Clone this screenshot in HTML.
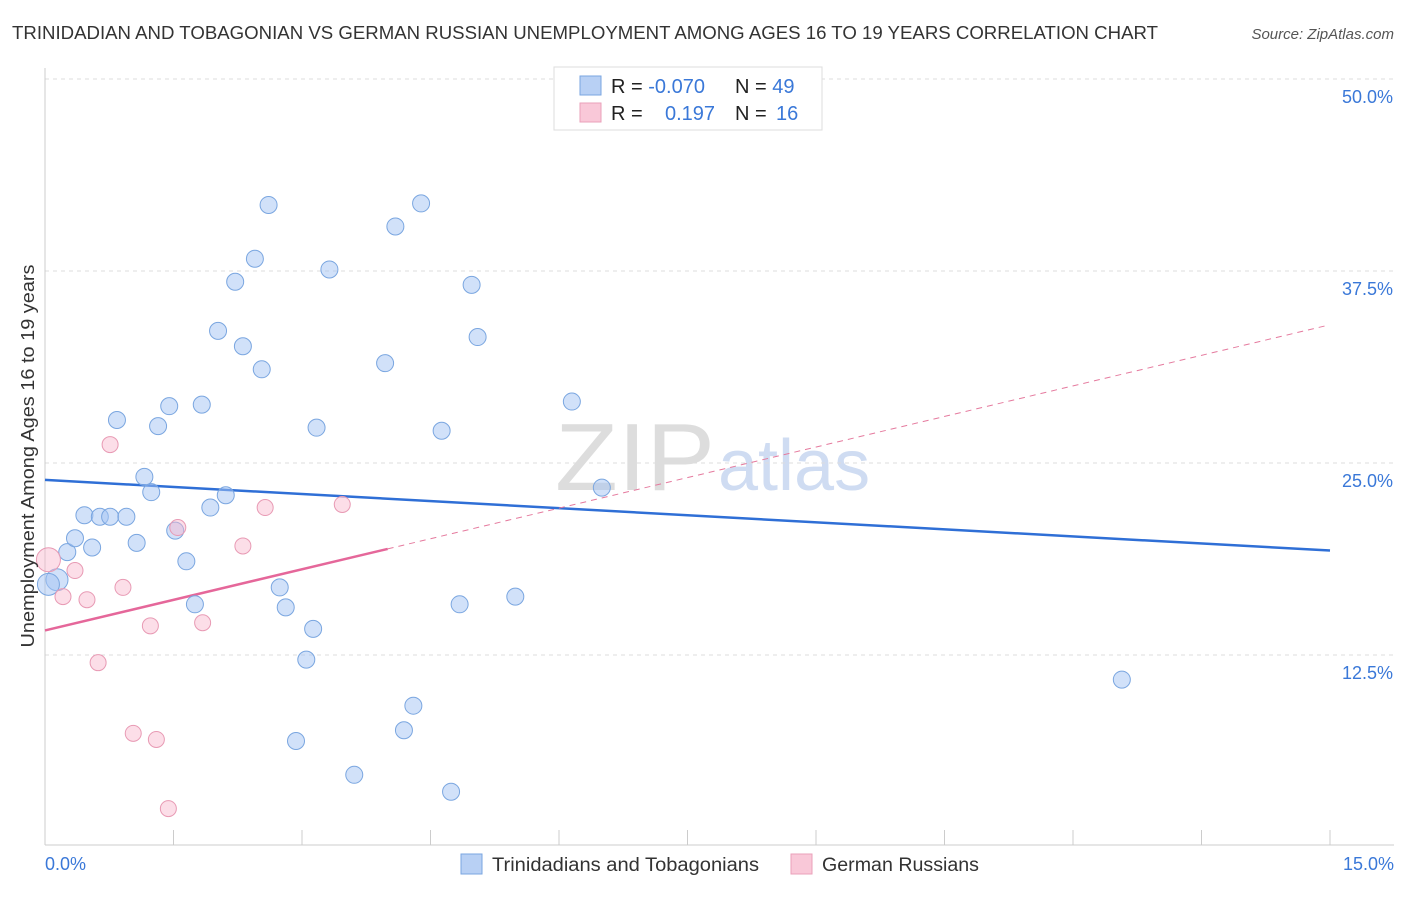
<!DOCTYPE html>
<html><head><meta charset="utf-8"><style>
body{margin:0;background:#fff;font-family:"Liberation Sans",sans-serif;}
svg text{font-family:"Liberation Sans",sans-serif;}
</style></head><body>
<svg id="chart" width="1406" height="892">
<text x="12" y="39" font-size="18" fill="#333" textLength="1146" lengthAdjust="spacingAndGlyphs">TRINIDADIAN AND TOBAGONIAN VS GERMAN RUSSIAN UNEMPLOYMENT AMONG AGES 16 TO 19 YEARS CORRELATION CHART</text>
<text x="1394" y="39" font-size="15" fill="#555" text-anchor="end" font-style="italic">Source: ZipAtlas.com</text>
<text x="555" y="490" font-size="96" fill="#ddd" font-family="Liberation Serif" textLength="160" lengthAdjust="spacingAndGlyphs">ZIP</text>
<text x="718" y="490" font-size="72" fill="#cfdcf2">atlas</text>
<g id="grid"></g><g id="axes"></g><g id="trend"></g><g id="pts"></g>
<text transform="translate(34,456) rotate(-90)" font-size="18" fill="#333" text-anchor="middle" textLength="383" lengthAdjust="spacingAndGlyphs">Unemployment Among Ages 16 to 19 years</text>
<text x="45" y="870" font-size="18" fill="#3a78d8">0.0%</text>
<text x="1394" y="870" font-size="18" fill="#3a78d8" text-anchor="end">15.0%</text>
<g>
<rect x="554" y="67" width="268" height="63" fill="#fff" stroke="#ddd"/>
<rect x="580" y="76" width="21" height="19" fill="#b8d0f4" stroke="#7aa6e0"/>
<rect x="580" y="103" width="21" height="19" fill="#f9c8d8" stroke="#eaa0ba"/>
<text x="611" y="93" font-size="20" fill="#222">R = <tspan fill="#3a78d8">-0.070</tspan></text>
<text x="735" y="93" font-size="20" fill="#222">N = <tspan fill="#3a78d8">49</tspan></text>
<text x="611" y="120" font-size="20" fill="#222">R = </text>
<text x="665" y="120" font-size="20" fill="#3a78d8">0.197</text>
<text x="735" y="120" font-size="20" fill="#222">N = </text>
<text x="776" y="120" font-size="20" fill="#3a78d8">16</text>
</g>
<g>
<rect x="461" y="854" width="21" height="20" fill="#b8d0f4" stroke="#7aa6e0"/>
<text x="492" y="871" font-size="19" fill="#333" textLength="267" lengthAdjust="spacingAndGlyphs">Trinidadians and Tobagonians</text>
<rect x="791" y="854" width="21" height="20" fill="#f9c8d8" stroke="#eaa0ba"/>
<text x="822" y="871" font-size="19" fill="#333" textLength="157" lengthAdjust="spacingAndGlyphs">German Russians</text>
</g>
</svg>
<script>
const yTicks=[12.5,25,37.5,50];
const yTickLabels=["12.5%","25.0%","37.5%","50.0%"];
const blueX=[0.14,0.26,0.35,0.46,0.55,0.64,0.76,0.84,0.95,1.07,1.16,1.24,1.32,1.45,1.52,1.65,1.75,1.83,1.93,2.02,2.11,2.22,2.31,2.45,2.53,2.61,2.74,2.81,2.93,3.05,3.13,3.17,3.32,3.61,3.97,4.09,4.19,4.30,4.39,4.63,4.74,4.84,4.98,5.05,5.49,6.15,6.50,12.57,0.04];
const blueY=[17.4,19.2,20.1,21.6,19.5,21.5,21.5,27.8,21.5,19.8,24.1,23.1,27.4,28.7,20.6,18.6,15.8,28.8,22.1,33.6,22.9,36.8,32.6,38.3,31.1,41.8,16.9,15.6,6.9,12.2,14.2,27.3,37.6,4.7,31.5,40.4,7.6,9.2,41.9,27.1,3.6,15.8,36.6,33.2,16.3,29.0,23.4,10.9,17.1];
const pinkX=[0.04,0.21,0.35,0.49,0.62,0.76,0.91,1.03,1.23,1.30,1.44,1.55,1.84,2.31,2.57,3.47];
const pinkY=[18.7,16.3,18.0,16.1,12.0,26.2,16.9,7.4,14.4,7.0,2.5,20.8,14.6,19.6,22.1,22.3];
const blueTrend=[23.9,19.3];
const pinkTrend=[14.1,34.0];
const pinkSolidEnd=4.0;
const X=v=>45+v/15*1285, Y=v=>847-v*192/12.5;
const NS="http://www.w3.org/2000/svg";
function mk(tag,attrs,parent){const e=document.createElementNS(NS,tag);for(const k in attrs)e.setAttribute(k,attrs[k]);document.getElementById(parent).appendChild(e);return e;}
yTicks.forEach((t,i)=>{
 const l=mk('line',{x1:45,x2:1394,y1:Y(t),y2:Y(t),stroke:'#ddd','stroke-dasharray':'4,4'},'grid');
 
 
 const tx=mk('text',{x:1393,y:Y(t)+24,'font-size':18,fill:'#3a78d8','text-anchor':'end'},'grid');
 tx.textContent=yTickLabels[i];
 
 
});
const ax=mk('line',{x1:45,x2:1394,y1:845,y2:845,stroke:'#ccc'},'axes');


const ay=mk('line',{x1:45,x2:45,y1:68,y2:845,stroke:'#ccc'},'axes');


for(let i=0;i<=10;i++){const t=mk('line',{x1:X(i*1.5),x2:X(i*1.5),y1:830,y2:845,stroke:'#ccc'},'axes');
 
 }
const bt=mk('line',{x1:X(0),y1:Y(blueTrend[0]),x2:X(15),y2:Y(blueTrend[1]),stroke:'#2f6fd6','stroke-width':2.5},'trend');


const pAt=v=>pinkTrend[0]+(pinkTrend[1]-pinkTrend[0])*v/15;
const pd=mk('line',{x1:X(pinkSolidEnd),y1:Y(pAt(pinkSolidEnd)),x2:X(14.96),y2:Y(pAt(14.96)),stroke:'#e57a9e','stroke-width':1,'stroke-dasharray':'6,5'},'trend');


const ps=mk('line',{x1:X(0),y1:Y(pinkTrend[0]),x2:X(pinkSolidEnd),y2:Y(pAt(pinkSolidEnd)),stroke:'#e5679a','stroke-width':2.5},'trend');


blueX.forEach((x,i)=>{const c=mk('circle',{cx:X(x),cy:Y(blueY[i]),r:(i==0||i==48)?11:8.5,fill:'rgba(164,196,244,0.5)',stroke:'#7aa6e0','stroke-width':1},'pts');
 
 });
pinkX.forEach((x,i)=>{const c=mk('circle',{cx:X(x),cy:Y(pinkY[i]),r:i==0?12:8,fill:'rgba(248,182,204,0.45)',stroke:'#e89ab4','stroke-width':1},'pts');
 
 });
</script>
</body></html>
